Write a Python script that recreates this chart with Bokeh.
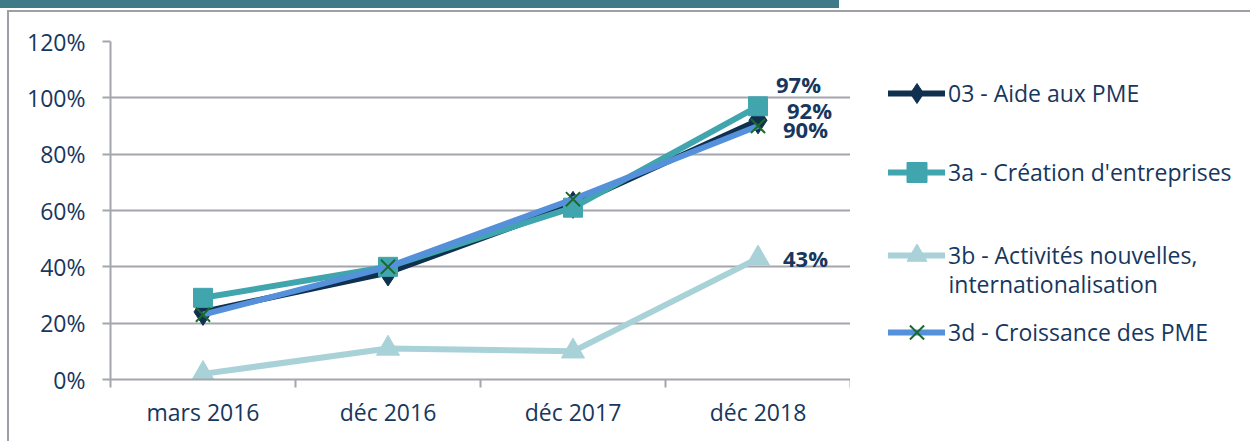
from bokeh.plotting import figure
from bokeh.models import (FixedTicker, NumeralTickFormatter, Range1d, Legend, LegendItem, Label, Div)
from bokeh.layouts import row, column
from bokeh.embed import file_html
from bokeh.resources import INLINE

categories = ["mars 2016", "déc 2016", "déc 2017", "déc 2018"]
aide_pme = [0.24, 0.38, 0.62, 0.92]
creation = [0.29, 0.40, 0.61, 0.97]
activites = [0.02, 0.11, 0.10, 0.43]
croissance = [0.23, 0.40, 0.64, 0.90]
series_names = ["03 - Aide aux PME", "3a - Création d'entreprises",
                "3b - Activités nouvelles,", "3d - Croissance des PME"]
extra_legend_line = "internationalisation"
y_ticks = [0, 0.2, 0.4, 0.6, 0.8, 1.0, 1.2]

FONT = "Open Sans"
TXT = "#17375e"
GRID = "#a4a6ad"
FS = "23px"

c1, c2, c3, c4 = "#10304f", "#41a5ae", "#a8d2d8", "#5590da"
xmark = "#1a6b2a"

xs = [i + 0.5 for i in range(len(categories))]
series = [aide_pme, creation, activites, croissance]

p = figure(width=841, height=429, output_backend="svg", toolbar_location=None,
           x_range=Range1d(0, len(categories)), y_range=Range1d(0, 1.2),
           min_border_left=101, min_border_right=0, min_border_top=29, min_border_bottom=62)
p.outline_line_color = None
p.xgrid.grid_line_color = None
p.ygrid.grid_line_color = GRID
p.ygrid.grid_line_width = 2
p.ygrid.ticker = FixedTicker(ticks=y_ticks)

p.yaxis.ticker = FixedTicker(ticks=y_ticks)
p.yaxis.formatter = NumeralTickFormatter(format="0%")
p.yaxis.major_tick_in = 0
p.yaxis.major_tick_out = 8
p.yaxis.minor_tick_out = 0
p.yaxis.minor_tick_in = 0
p.yaxis.axis_line_color = GRID
p.yaxis.axis_line_width = 2
p.yaxis.major_tick_line_color = GRID
p.yaxis.major_tick_line_width = 2
p.yaxis.major_label_text_font = FONT
p.yaxis.major_label_text_font_size = FS
p.yaxis.major_label_text_color = TXT
p.yaxis.major_label_standoff = 17

p.xaxis.ticker = FixedTicker(ticks=xs, minor_ticks=list(range(len(categories) + 1)))
p.xaxis.major_label_overrides = {x: c for x, c in zip(xs, categories)}
p.xaxis.major_tick_in = 0
p.xaxis.major_tick_out = 0
p.xaxis.minor_tick_in = 0
p.xaxis.minor_tick_out = 8
p.xaxis.minor_tick_line_color = GRID
p.xaxis.minor_tick_line_width = 2
p.xaxis.axis_line_color = GRID
p.xaxis.axis_line_width = 2
p.xaxis.major_label_text_font = FONT
p.xaxis.major_label_text_font_size = FS
p.xaxis.major_label_text_color = TXT
p.xaxis.major_label_standoff = 8

LW = 6
p.line(xs, aide_pme, line_color=c1, line_width=LW, line_join="round")
p.scatter(xs, aide_pme, marker="diamond", size=27, fill_color=c1, line_color=c1)
p.line(xs, creation, line_color=c2, line_width=LW, line_join="round")
p.scatter(xs, creation, marker="square", size=19, fill_color=c2, line_color=c2)
p.line(xs, activites, line_color=c3, line_width=LW, line_join="round")
p.scatter(xs, activites, marker="triangle", size=23, fill_color=c3, line_color=c3)
p.line(xs, croissance, line_color=c4, line_width=LW, line_join="round")
p.scatter(xs, croissance, marker="x", size=20, line_color=xmark, line_width=2)

# data labels on the last point
last = len(xs) - 1
for vals, dx, dy in [(creation, 18, 22), (aide_pme, 29, 10), (croissance, 25, -3), (activites, 25, 0)]:
    p.add_layout(Label(x=xs[last], y=vals[last], text=f"{round(vals[last]*100)}%",
                       x_offset=dx, y_offset=dy, text_font=FONT, text_font_size="22px",
                       text_font_style="bold", text_color=TXT, text_baseline="middle"))

# legend panel (its frame is aligned with the chart's frame)
q = figure(width=400, height=429, output_backend="svg", toolbar_location=None,
           x_range=Range1d(0, len(categories)), y_range=Range1d(0, 1.2),
           min_border_left=0, min_border_right=0, min_border_top=0, min_border_bottom=0)
q.axis.visible = False
q.grid.grid_line_color = None
q.outline_line_color = None

styles = [(c1, "diamond", c1), (c2, "square", c2), (c3, "triangle", c3), (c4, "x", xmark)]
legend_pos = [261, 182, 99, 22]
for name, vals, (lc, mk, mc), ly in zip(series_names, series, styles, legend_pos):
    lr = q.line(xs, vals, line_color=lc, line_width=6, line_cap="round", visible=False)
    sr = q.scatter(xs, vals, marker=mk, fill_color=mc, line_color=mc,
                   line_width=2 if mk == "x" else 1, visible=False)
    lg = Legend(items=[LegendItem(label=name, renderers=[lr, sr])], location=(38, ly),
                glyph_width=57, glyph_height=50, label_standoff=3, padding=0, margin=0,
                border_line_color=None, background_fill_alpha=0, inactive_fill_alpha=0,
                label_text_font=FONT, label_text_font_size=FS, label_text_color=TXT)
    q.add_layout(lg, "center")

q.add_layout(Label(x=98, y=96, x_units="screen", y_units="screen", text=extra_legend_line,
                   text_font=FONT, text_font_size=FS, text_color=TXT, text_baseline="middle"))

bar = Div(text="", width=839, height=8, margin=0, styles={"background-color": "#3f7a89"})
body = row(p, q, spacing=0,
           styles={"border-top": "2px solid #9d9fa6", "border-left": "2px solid #9d9fa6",
                   "margin-top": "2px", "margin-left": "7px"})
layout = column(bar, body, spacing=0)

open("out.html", "w").write(file_html(layout, INLINE))
